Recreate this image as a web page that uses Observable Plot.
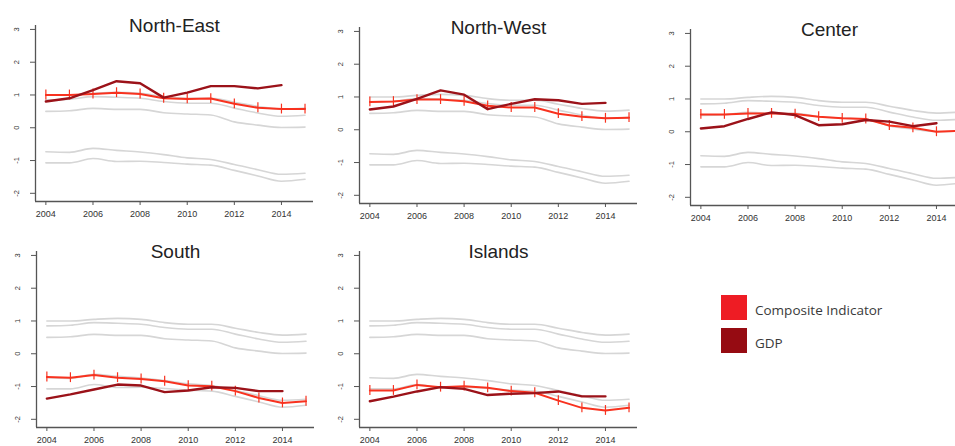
<!DOCTYPE html>
<html><head><meta charset="utf-8">
<script src="https://cdn.jsdelivr.net/npm/d3@7"></script>
<script src="https://cdn.jsdelivr.net/npm/@observablehq/plot@0.6"></script>
<style>
html,body{margin:0;padding:0;background:#fff;}
#wrap{position:relative;width:955px;height:446px;overflow:hidden;background:#fff;}
.panel{position:absolute;width:320px;height:225px;}
.panel svg{max-width:none !important;}
.leg{position:absolute;font-family:"Open Sans","Noto Sans",sans-serif;font-size:13.5px;line-height:18px;color:#3a3a3a;white-space:nowrap;}
.sw{position:absolute;width:26px;height:25px;}
</style></head>
<body><div id="wrap"></div>
<script>
const years = [2004,2005,2006,2007,2008,2009,2010,2011,2012,2013,2014,2015];
const gdpYears = [2004,2005,2006,2007,2008,2009,2010,2011,2012,2013,2014];
const xTicks = [2004,2006,2008,2010,2012,2014];
const yTicks = [-2,-1,0,1,2,3];

// grey reference lines (same in every panel)
const band1 = [1.0, 1.0, 1.05, 1.08, 1.05, 0.95, 0.9, 0.9, 0.78, 0.65, 0.57, 0.6];
const band2 = [0.85, 0.87, 0.95, 0.93, 0.9, 0.8, 0.75, 0.75, 0.6, 0.45, 0.35, 0.38];
const band3 = [0.5, 0.52, 0.59, 0.56, 0.56, 0.46, 0.42, 0.39, 0.18, 0.08, 0.01, 0.02];
const band4 = [-0.73, -0.75, -0.63, -0.69, -0.74, -0.82, -0.92, -0.97, -1.12, -1.28, -1.42, -1.39];
const band5 = [-1.07, -1.07, -0.94, -1.03, -1.02, -1.06, -1.11, -1.14, -1.3, -1.47, -1.63, -1.57];

const regions = ["North-East","North-West","Center","South","Islands"];
const ciNE = [1.0, 1.0, 1.03, 1.07, 1.03, 0.9, 0.88, 0.89, 0.73, 0.61, 0.57, 0.57];
const ciNW = [0.85, 0.86, 0.92, 0.92, 0.87, 0.73, 0.68, 0.68, 0.49, 0.40, 0.35, 0.37];
const ciCE = [0.53, 0.53, 0.56, 0.56, 0.54, 0.46, 0.41, 0.39, 0.19, 0.12, 0.0, 0.03];
const ciSO = [-0.71, -0.73, -0.65, -0.73, -0.77, -0.84, -0.97, -0.99, -1.14, -1.35, -1.5, -1.45];
const ciIS = [-1.12, -1.12, -0.95, -1.02, -0.99, -1.04, -1.14, -1.19, -1.43, -1.65, -1.73, -1.65];
const gdpNE = [0.8, 0.9, 1.15, 1.42, 1.36, 0.92, 1.07, 1.27, 1.27, 1.2, 1.3];
const gdpNW = [0.62, 0.71, 0.94, 1.2, 1.07, 0.63, 0.79, 0.93, 0.9, 0.79, 0.82];
const gdpCE = [0.1, 0.17, 0.39, 0.59, 0.51, 0.2, 0.23, 0.36, 0.31, 0.17, 0.26];
const gdpSO = [-1.37, -1.24, -1.09, -0.94, -0.97, -1.17, -1.12, -1.02, -1.04, -1.14, -1.14];
const gdpIS = [-1.45, -1.31, -1.15, -1.02, -1.07, -1.26, -1.22, -1.2, -1.15, -1.3, -1.3];
const ciErr = 0.15; // half-width of the composite indicator bars

const legendLabels = ["Composite Indicator","GDP"];
const ciColor = "#f8321f", gdpColor = "#9b1219", greyColor = "#d6d6d6";
const legendColors = ["#ee1c24", "#960b12"];

const ciSeries = [ciNE, ciNW, ciCE, ciSO, ciIS];
const gdpSeries = [gdpNE, gdpNW, gdpCE, gdpSO, gdpIS];
const bands = [band1, band2, band3, band4, band5];
const offsets = [[0,0],[324,2],[655,4],[1,226],[324,226]];

const xDom = [2003.56, 2015.36], yDom = [-2.25, 3.12];
const wrap = document.getElementById("wrap");

regions.forEach((name, i) => {
  const greyData = bands.flatMap((b, k) => b.map((v, j) => ({year: years[j], v, s: k})));
  const ci = ciSeries[i].map((v, j) => ({year: years[j], v}));
  const gdp = gdpSeries[i].map((v, j) => ({year: gdpYears[j], v}));
  const chart = Plot.plot({
    width: 320, height: 225,
    marginLeft: 35, marginRight: 7, marginTop: 25, marginBottom: 24,
    style: {fontFamily: "'Liberation Sans', Arial, sans-serif", background: "transparent", overflow: "visible", maxWidth: "none"},
    x: {domain: xDom},
    y: {domain: yDom},
    marks: [
      Plot.line(greyData, {x: "year", y: "v", z: "s", stroke: greyColor, strokeWidth: 1.6, curve: "monotone-x"}),
      Plot.line(ci, {x: "year", y: "v", stroke: ciColor, strokeWidth: 2}),
      Plot.ruleX(ci, {x: "year", y1: d => d.v - ciErr, y2: d => d.v + ciErr, stroke: ciColor, strokeWidth: 1.2}),
      Plot.line(gdp, {x: "year", y: "v", stroke: gdpColor, strokeWidth: 2.4}),
      Plot.ruleX([xDom[0]], {stroke: "#555", strokeWidth: 1.3}),
      Plot.ruleY([yDom[0]], {stroke: "#555", strokeWidth: 1.3}),
      Plot.axisX({ticks: xTicks, tickFormat: d => String(d), tickSize: 4, tickPadding: 5, fontSize: 9, label: null, stroke: "#555", fill: "#333"}),
      Plot.axisY({ticks: yTicks, tickFormat: d => String(d), tickSize: 5, tickRotate: -90, tickPadding: 12, fontSize: 7.5, label: null, stroke: "#555", fill: "#333"}),
      Plot.text([name], {frameAnchor: "top", text: d => d, fontSize: 19, fill: "#222", lineAnchor: "middle"})
    ]
  });
  const div = document.createElement("div");
  div.className = "panel";
  div.style.left = offsets[i][0] + "px";
  div.style.top = offsets[i][1] + "px";
  div.appendChild(chart);
  wrap.appendChild(div);
});

// legend
const legTops = [295, 328];
legendLabels.forEach((lab, k) => {
  const sw = document.createElement("div");
  sw.className = "sw";
  sw.style.left = "721px"; sw.style.top = legTops[k] + "px";
  sw.style.background = legendColors[k];
  wrap.appendChild(sw);
  const t = document.createElement("div");
  t.className = "leg";
  t.style.left = "755px"; t.style.top = (legTops[k] + 6) + "px";
  t.textContent = lab;
  wrap.appendChild(t);
});
</script>
</body></html>
